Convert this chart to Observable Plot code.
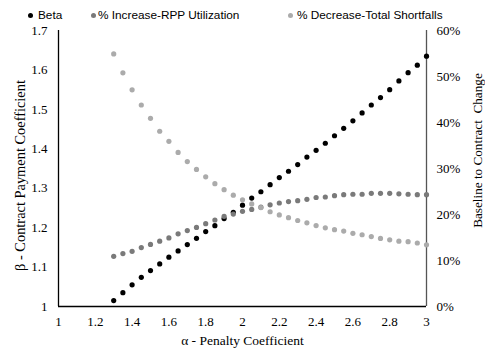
<!DOCTYPE html>
<html>
<head>
<meta charset="utf-8">
<script src="https://cdn.jsdelivr.net/npm/d3@7"></script>
<script src="https://cdn.jsdelivr.net/npm/@observablehq/plot@0.6"></script>
<style>
  html, body { margin: 0; padding: 0; background: #fff; }
  #wrap { position: relative; width: 485px; height: 349px; }
  #wrap svg { position: absolute; left: 0; top: 0; }
  .leg { position: absolute; top: 7px; font-family: "Liberation Sans", Arial, sans-serif; font-size: 11.8px; color: #000; white-space: nowrap; line-height: 16px; }
  .dot { position: absolute; width: 5px; height: 5px; border-radius: 50%; top: 13px; }
</style>
</head>
<body>
<div id="wrap"></div>
<script>
const alpha = [1.30,1.35,1.40,1.45,1.50,1.55,1.60,1.65,1.70,1.75,1.80,1.85,1.90,1.95,2.00,2.05,2.10,2.15,2.20,2.25,2.30,2.35,2.40,2.45,2.50,2.55,2.60,2.65,2.70,2.75,2.80,2.85,2.90,2.95,3.00];
const beta = [1.015,1.035,1.055,1.074,1.091,1.108,1.125,1.141,1.157,1.173,1.190,1.205,1.223,1.239,1.257,1.275,1.291,1.309,1.327,1.343,1.360,1.379,1.396,1.414,1.433,1.452,1.471,1.491,1.511,1.530,1.550,1.572,1.593,1.612,1.635];
const rppIncrease = [10.9,11.5,12.0,12.8,13.5,14.2,14.9,15.8,16.5,17.2,18.0,18.8,19.6,20.1,20.7,21.1,21.6,22.1,22.5,22.8,23.0,23.3,23.7,23.8,24.1,24.3,24.4,24.4,24.6,24.6,24.6,24.5,24.4,24.3,24.3];
const shortfallDecrease = [54.9,50.8,47.1,43.8,40.9,38.1,35.9,33.5,31.5,29.8,28.2,26.7,25.4,24.2,23.2,22.3,21.5,20.6,19.9,19.3,18.7,18.2,17.6,17.1,16.7,16.4,15.9,15.6,15.2,14.8,14.5,14.2,14.1,13.8,13.4];
const xTicks = [1,1.2,1.4,1.6,1.8,2,2.2,2.4,2.6,2.8,3];
const yTicks = [1,1.1,1.2,1.3,1.4,1.5,1.6,1.7];
const pctTicks = [0,10,20,30,40,50,60];
const seriesNames = ["Beta", "% Increase-RPP Utilization", "% Decrease-Total Shortfalls"];
const colors = ["#000000", "#7a7a7a", "#ababab"];

// right axis percent mapped onto left scale: 0% -> 1, 60% -> 1.7
const pctToY = p => 1 + p / 60 * 0.7;
const yToPct = y => Math.round((y - 1) * 60 / 0.7);

const rows = [];
alpha.forEach((a, i) => {
  rows.push({a, y: beta[i], s: seriesNames[0]});
  rows.push({a, y: pctToY(rppIncrease[i]), s: seriesNames[1]});
  rows.push({a, y: pctToY(shortfallDecrease[i]), s: seriesNames[2]});
});

const serif = "'Liberation Serif', 'Times New Roman', serif";

const chart = Plot.plot({
  width: 485,
  height: 349,
  marginLeft: 58,
  marginRight: 59,
  marginTop: 30,
  marginBottom: 43,
  style: {fontFamily: serif, fontSize: "13px", background: "transparent", color: "#000", overflow: "visible"},
  x: {domain: [1, 3]},
  y: {domain: [1, 1.7]},
  color: {domain: seriesNames, range: colors},
  marks: [
    Plot.axisX(xTicks, {tickSize: 0, tickPadding: 10, label: null, fontSize: 13, tickFormat: d => String(d)}),
    Plot.axisY(yTicks, {anchor: "left", tickSize: 0, tickPadding: 11, label: null, fontSize: 13, tickFormat: d => String(+d.toFixed(1))}),
    Plot.axisY(pctTicks.map(pctToY), {anchor: "right", tickSize: 0, tickPadding: 10, label: null, fontSize: 13, tickFormat: d => yToPct(d) + "%"}),
    Plot.ruleX([3], {stroke: "#555", strokeWidth: 1.3}),
    Plot.ruleX([1], {stroke: "#000", strokeWidth: 1.3}),
    Plot.ruleY([1], {stroke: "#000", strokeWidth: 1.3}),
    Plot.dot(rows, {x: "a", y: "y", fill: "s", r: 2.6, stroke: null}),
    Plot.text(["α - Penalty Coefficient"], {frameAnchor: "bottom", textAnchor: "middle", dy: 34, lineAnchor: "middle", fontSize: 13.5, fontFamily: serif}),
    Plot.text(["β - Contract Payment Coefficient"], {frameAnchor: "left", textAnchor: "middle", lineAnchor: "middle", dx: -38, dy: 7, rotate: -90, fontSize: 14.4, fontFamily: serif}),
    Plot.text(["Baseline to Contract  Change"], {frameAnchor: "right", textAnchor: "middle", lineAnchor: "middle", dx: 51, dy: -18, rotate: -90, fontSize: 13.2, fontFamily: serif})
  ]
});

const wrap = document.getElementById("wrap");
wrap.appendChild(chart);

const legPos = [[28, 38], [91, 98], [288, 297]];
seriesNames.forEach((n, i) => {
  const d = document.createElement("div");
  d.className = "dot";
  d.style.left = legPos[i][0] + "px";
  d.style.background = colors[i];
  wrap.appendChild(d);
  const t = document.createElement("div");
  t.className = "leg";
  t.style.left = legPos[i][1] + "px";
  t.textContent = n;
  wrap.appendChild(t);
});
</script>
</body>
</html>
